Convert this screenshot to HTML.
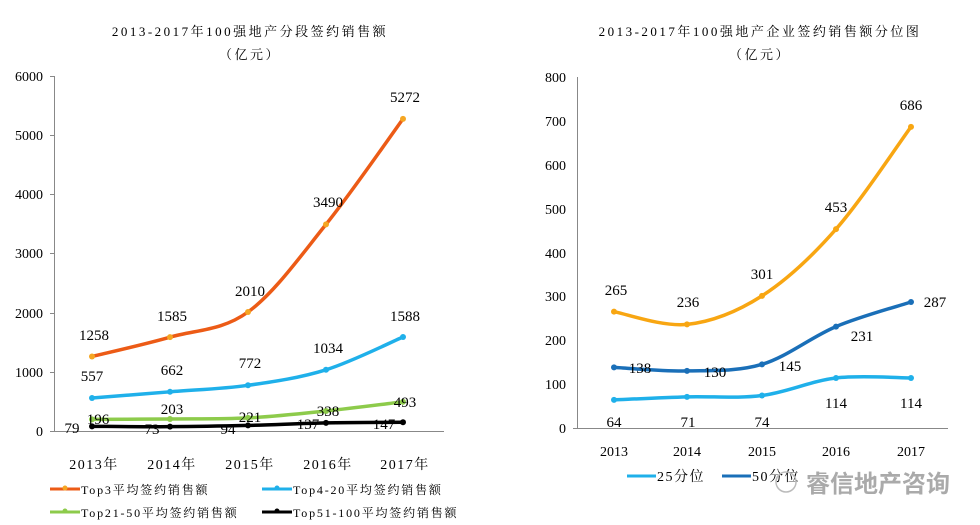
<!DOCTYPE html>
<html><head><meta charset="utf-8"><style>
body{margin:0;background:#fff;width:980px;height:525px;overflow:hidden}
svg{display:block}
text{font-family:"Liberation Serif","Noto Serif CJK SC",serif;fill:#000}
</style></head><body>
<svg id="s" width="980" height="525" viewBox="0 0 980 525" xmlns="http://www.w3.org/2000/svg">
<g font-size="13" text-anchor="middle" letter-spacing="2.5">
<text x="250" y="36">2013-2017年100强地产分段签约销售额</text>
<text x="250" y="59">（亿元）</text>
<text x="760" y="36">2013-2017年100强地产企业签约销售额分位图</text>
<text x="760" y="59">（亿元）</text>
</g>
<g stroke="#888" stroke-width="1">
<line x1="54.5" y1="76" x2="54.5" y2="431"/>
<line x1="50" y1="431.5" x2="444" y2="431.5"/>
<line x1="50" y1="76.5" x2="54" y2="76.5"/><line x1="50" y1="135.5" x2="54" y2="135.5"/>
<line x1="50" y1="194.5" x2="54" y2="194.5"/><line x1="50" y1="253.5" x2="54" y2="253.5"/>
<line x1="50" y1="313.5" x2="54" y2="313.5"/><line x1="50" y1="372.5" x2="54" y2="372.5"/>
</g>
<g font-size="14" text-anchor="end">
<text x="43" y="81">6000</text><text x="43" y="140">5000</text><text x="43" y="199">4000</text>
<text x="43" y="258">3000</text><text x="43" y="318">2000</text><text x="43" y="377">1000</text><text x="43" y="436">0</text>
</g>
<g font-size="14" text-anchor="middle" letter-spacing="1.5">
<text x="94" y="469">2013年</text><text x="172" y="469">2014年</text><text x="250" y="469">2015年</text>
<text x="328" y="469">2016年</text><text x="405" y="469">2017年</text>
</g>
<g stroke="#888" stroke-width="1">
<line x1="577.5" y1="77" x2="577.5" y2="428"/>
<line x1="573" y1="428.5" x2="948" y2="428.5"/>
</g>
<g font-size="14" text-anchor="end">
<text x="566" y="82">800</text><text x="566" y="126">700</text><text x="566" y="170">600</text>
<text x="566" y="214">500</text><text x="566" y="258">400</text><text x="566" y="301">300</text>
<text x="566" y="345">200</text><text x="566" y="389">100</text><text x="566" y="433">0</text>
</g>
<g font-size="14" text-anchor="middle">
<text x="614" y="456">2013</text><text x="687" y="456">2014</text><text x="762" y="456">2015</text>
<text x="836" y="456">2016</text><text x="911" y="456">2017</text>
</g>
<g id="curves"></g>
<g font-size="15" text-anchor="middle">
<text x="94" y="340">1258</text><text x="172" y="321">1585</text><text x="250" y="296">2010</text>
<text x="328" y="207">3490</text><text x="405" y="102">5272</text>
<text x="92" y="381">557</text><text x="172" y="375">662</text><text x="250" y="368">772</text>
<text x="328" y="353">1034</text><text x="405" y="321">1588</text>
<text x="98" y="424">196</text><text x="172" y="414">203</text><text x="250" y="422">221</text>
<text x="328" y="416">338</text><text x="405" y="407">493</text>
<text x="72" y="433">79</text><text x="152" y="434">73</text><text x="228" y="434">94</text>
<text x="308" y="429">137</text><text x="384" y="429">147</text>
</g>
<g font-size="15" text-anchor="middle">
<text x="616" y="295">265</text><text x="688" y="307">236</text><text x="762" y="279">301</text>
<text x="836" y="212">453</text><text x="911" y="110">686</text>
<text x="640" y="373">138</text><text x="715" y="377">130</text><text x="790" y="371">145</text>
<text x="862" y="341">231</text><text x="935" y="307">287</text>
<text x="614" y="427">64</text><text x="688" y="427">71</text><text x="762" y="427">74</text>
<text x="836" y="408">114</text><text x="911" y="408">114</text>
</g>
<g stroke-width="3">
<line x1="50" y1="489" x2="80" y2="489" stroke="#ec5b16"/><circle cx="65" cy="488" r="2.5" fill="#f5a623"/>
<line x1="262" y1="489" x2="292" y2="489" stroke="#1fb0ea"/><circle cx="277" cy="488" r="2.5" fill="#1fb0ea"/>
<line x1="50" y1="512" x2="80" y2="512" stroke="#8dcb4b"/><circle cx="65" cy="511" r="2.5" fill="#8dcb4b"/>
<line x1="262" y1="512" x2="292" y2="512" stroke="#000"/><circle cx="277" cy="511" r="2.5" fill="#000"/>
</g>
<g font-size="12" letter-spacing="1.8">
<text x="81" y="494">Top3平均签约销售额</text><text x="293" y="494">Top4-20平均签约销售额</text>
<text x="81" y="517">Top21-50平均签约销售额</text><text x="293" y="517">Top51-100平均签约销售额</text>
</g>
<g stroke-width="3">
<line x1="627" y1="476" x2="656" y2="476" stroke="#1fb0ea"/>
<line x1="722" y1="476" x2="751" y2="476" stroke="#1a6fb8"/>
</g>
<g font-size="14" letter-spacing="1.5"><text x="657" y="481">25分位</text><text x="752" y="481">50分位</text></g>
<text x="806" y="492" font-size="24" style="fill:#aaa;font-family:'Noto Sans CJK SC',sans-serif;font-weight:bold">睿信地产咨询</text>
<circle cx="786" cy="482" r="10" fill="none" stroke="#bbb" stroke-width="1.5"/>
</svg>
<script>
function path(pts){let d="M"+pts[0][0]+","+pts[0][1];for(let i=0;i<pts.length-1;i++){const p0=pts[i-1]||pts[i],p1=pts[i],p2=pts[i+1],p3=pts[i+2]||p2;
d+=" C"+(p1[0]+(p2[0]-p0[0])/6)+","+(p1[1]+(p2[1]-p0[1])/6)+" "+(p2[0]-(p3[0]-p1[0])/6)+","+(p2[1]-(p3[1]-p1[1])/6)+" "+p2[0]+","+p2[1];}return d;}
const g=document.getElementById("curves");let h="";
function add(xs,ys,col,mk,w){const p=xs.map((x,i)=>[x,ys[i]]);h+='<path d="'+path(p)+'" fill="none" stroke="'+col+'" stroke-width="'+w+'"/>';p.forEach(q=>h+='<circle cx="'+q[0]+'" cy="'+q[1]+'" r="3" fill="'+mk+'"/>');}
const L=[92,170,248,326,403],R=[614,687,762,836,911];
const ly=v=>431-v*0.0592,ry=v=>428-v*0.439;
add(L,[79,73,94,137,147].map(ly),"#000","#000",3.5);
add(L,[196,203,221,338,493].map(ly),"#8dcb4b","#8dcb4b",3.5);
add(L,[557,662,772,1034,1588].map(ly),"#1fb0ea","#1fb0ea",3.5);
add(L,[1258,1585,2010,3490,5272].map(ly),"#ec5b16","#f5a623",3.5);
add(R,[64,71,74,114,114].map(ry),"#1fb0ea","#1fb0ea",3.5);
add(R,[138,130,145,231,287].map(ry),"#1a6fb8","#1a6fb8",3.5);
add(R,[265,236,301,453,686].map(ry),"#f8a612","#f8a612",3.5);
g.innerHTML=h;
</script>
</body></html>
